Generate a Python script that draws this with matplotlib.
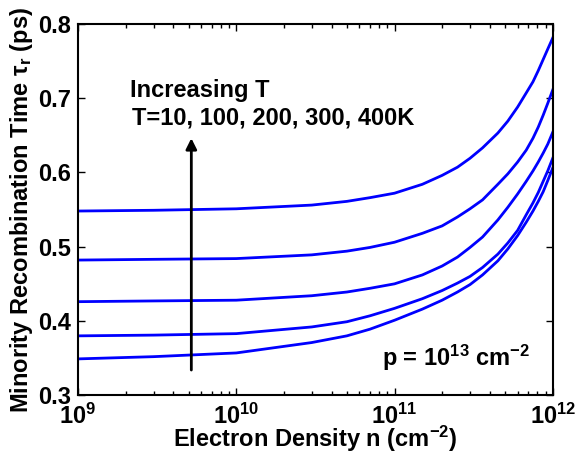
import matplotlib
matplotlib.use("Agg")
import matplotlib.pyplot as plt
from matplotlib.ticker import LogLocator, NullFormatter

plt.rcParams['font.family'] = ['Liberation Sans', 'DejaVu Sans']
plt.rcParams['font.weight'] = 'bold'
plt.rcParams['mathtext.fontset'] = 'custom'
plt.rcParams['mathtext.rm'] = 'Liberation Sans:bold'
plt.rcParams['mathtext.bf'] = 'Liberation Sans:bold'
plt.rcParams['mathtext.it'] = 'Liberation Sans:italic'
plt.rcParams['mathtext.default'] = 'bf'

# electron density (cm^-2)
n = [1e9, 3e9, 1e10, 3e10, 5e10, 7e10, 1e11, 1.5e11, 2e11, 2.5e11, 3e11,
     3.6e11, 4.5e11, 5.2e11, 6e11, 6.8e11, 7.5e11, 8.1e11, 8.7e11, 9.3e11, 1e12]

# minority recombination time (ps), one list per temperature
tau_400 = [0.548, 0.549, 0.551, 0.556, 0.561, 0.566, 0.572, 0.584, 0.596, 0.607, 0.619,
           0.633, 0.653, 0.669, 0.688, 0.707, 0.722, 0.737, 0.752, 0.766, 0.781]
tau_300 = [0.482, 0.483, 0.484, 0.489, 0.494, 0.499, 0.506, 0.518, 0.528, 0.540, 0.551,
           0.563, 0.584, 0.598, 0.614, 0.630, 0.646, 0.661, 0.677, 0.693, 0.711]
tau_200 = [0.426, 0.427, 0.428, 0.434, 0.439, 0.444, 0.450, 0.462, 0.474, 0.486, 0.499,
           0.513, 0.536, 0.553, 0.571, 0.588, 0.602, 0.614, 0.626, 0.638, 0.654]
tau_100 = [0.380, 0.381, 0.383, 0.392, 0.399, 0.407, 0.417, 0.430, 0.441, 0.451, 0.460,
           0.472, 0.490, 0.505, 0.522, 0.543, 0.559, 0.573, 0.588, 0.602, 0.619]
tau_10 = [0.349, 0.352, 0.357, 0.371, 0.380, 0.389, 0.401, 0.416, 0.428, 0.439, 0.449,
          0.462, 0.481, 0.497, 0.515, 0.533, 0.548, 0.561, 0.574, 0.589, 0.606]

fs = 17

fig = plt.figure(figsize=(5.75, 4.54), dpi=100)
ax = fig.add_axes([0.1357, 0.1293, 0.8256, 0.8183])

for tau in [tau_10, tau_100, tau_200, tau_300, tau_400]:
    ax.plot(n, tau, color=(0, 0, 1), lw=2)

ax.set_xscale('log')
ax.set_xlim(1e9, 1e12)
ax.set_ylim(0.3, 0.8)
ax.set_yticks([0.3, 0.4, 0.5, 0.6, 0.7, 0.8])
ax.set_yticklabels(['0.3', '0.4', '0.5', '0.6', '0.7', '0.8'])
ax.xaxis.set_major_locator(LogLocator(base=10, numticks=10))
ax.xaxis.set_minor_locator(LogLocator(base=10, subs=range(2, 10), numticks=10))
ax.xaxis.set_minor_formatter(NullFormatter())

ax.tick_params(which='both', direction='in', top=True, right=True, labelsize=fs)
ax.tick_params(which='major', length=5, width=1)
ax.tick_params(which='minor', length=3, width=1)
ax.tick_params(axis='x', pad=6)
ax.tick_params(axis='y', pad=5)
for s in ax.spines.values():
    s.set_linewidth(1.5)

ax.set_xlabel(r'Electron Density n (cm$^{-2}$)', fontsize=fs, fontweight='bold')
ax.set_ylabel(r'Minority Recombination Time $\tau_r$ (ps)', fontsize=fs, fontweight='bold')
ax.xaxis.set_label_coords(0.5, -0.078)
ax.yaxis.set_label_coords(-0.09, 0.5)

ax.annotate('', xy=(5.2e9, 0.646), xytext=(5.2e9, 0.334),
            arrowprops=dict(arrowstyle='-|>', color='k', lw=2, mutation_scale=16,
                            shrinkA=0, shrinkB=0))
ax.text(2.13e9, 0.702, 'Increasing T', fontsize=fs, fontweight='bold', va='baseline')
ax.text(2.19e9, 0.664, 'T=10, 100, 200, 300, 400K', fontsize=fs, fontweight='bold', va='baseline')
ax.text(8.28e10, 0.340, r'p = 10$^{13}$ cm$^{-2}$', fontsize=fs, fontweight='bold', va='baseline')

fig.savefig('out.png', dpi=100)
